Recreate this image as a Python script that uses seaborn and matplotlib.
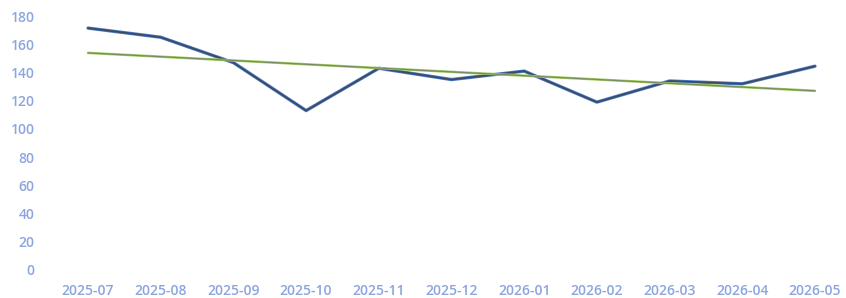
import matplotlib
matplotlib.use('Agg')
import matplotlib.pyplot as plt
import seaborn as sns
import pandas as pd

# 月份与数值
months = ['2025-07', '2025-08', '2025-09', '2025-10', '2025-11', '2025-12',
          '2026-01', '2026-02', '2026-03', '2026-04', '2026-05']
values = [171.5, 165, 147, 113, 143, 135, 141, 119, 134, 132, 144.5]
y_ticks = [0, 20, 40, 60, 80, 100, 120, 140, 160, 180]

sns.set_theme(style='white')
plt.rcParams['font.family'] = ['Open Sans', 'DejaVu Sans']

df = pd.DataFrame({'idx': range(len(months)), 'month': months, 'value': values})

fig = plt.figure(figsize=(8.46, 2.98), dpi=100)
ax = fig.add_axes([0.0525, 0.094, 0.9366, 0.852])

# 主折线：蓝色底 + 深色叠加（复印效果）
sns.lineplot(x='idx', y='value', data=df, ax=ax, color='#4a7fd0', linewidth=2.4)
sns.lineplot(x='idx', y='value', data=df, ax=ax, color='#3a3d44', linewidth=1.3, alpha=0.8)

# 趋势线
sns.regplot(x='idx', y='value', data=df, ax=ax, scatter=False, ci=None,
            line_kws={'color': '#a2cc62', 'linewidth': 1.8})
sns.regplot(x='idx', y='value', data=df, ax=ax, scatter=False, ci=None,
            line_kws={'color': '#55585c', 'linewidth': 0.9, 'alpha': 0.55})

ax.set_xlim(-0.6, 10.3)
ax.set_ylim(0, 180)
ax.set_xticks(df['idx'])
ax.set_xticklabels(months)
ax.set_yticks(y_ticks)
ax.set_xlabel('')
ax.set_ylabel('')
ax.tick_params(axis='both', length=0, labelsize=10, labelcolor='#8ba5df')
ax.tick_params(axis='x', pad=10)
ax.tick_params(axis='y', pad=7)
for lbl in ax.get_xticklabels() + ax.get_yticklabels():
    lbl.set_fontweight('semibold')
sns.despine(ax=ax, left=True, bottom=True)

plt.savefig('out.png', dpi=100)
plt.close()
